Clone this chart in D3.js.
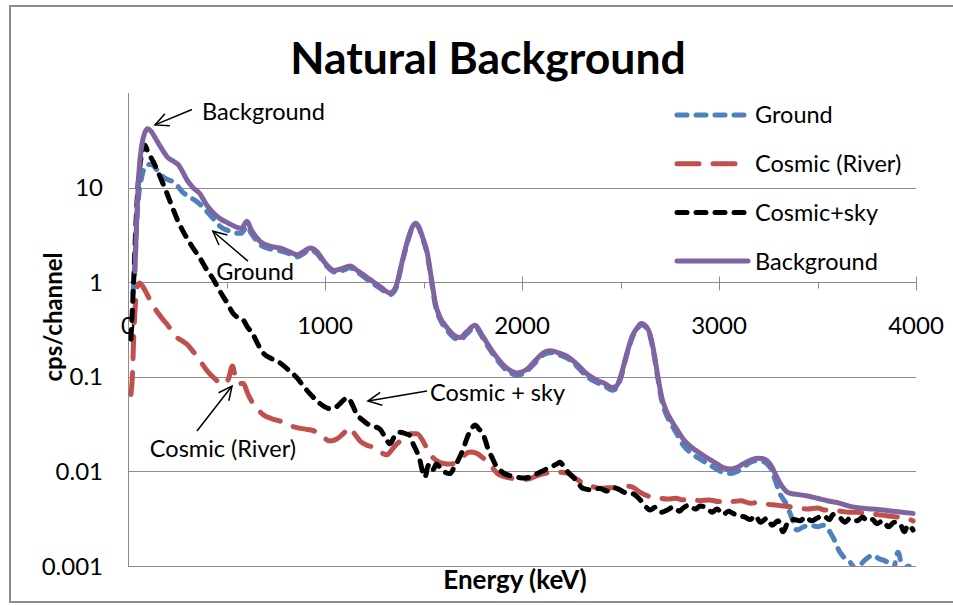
<!DOCTYPE html>
<html>
<head>
<meta charset="utf-8">
<script src="https://cdn.jsdelivr.net/npm/d3@7"></script>
<style>
  body { margin: 0; background: #fff; }
  text { font-family: Lato, "Open Sans", sans-serif; fill: #000; }
</style>
</head>
<body>
<svg id="chart" width="953" height="605"></svg>
<script>
// values: [energy keV, cps/channel]
var ground = [[25,0.75],[35,1.5],[45,4.5],[55,8.5],[70,13],[85,16.5],[100,17.5],[120,17.5],[140,16],[162,14],[190,12.5],[228,11.5],[250,10.5],[274,9.1],[310,8],[350,7.1],[400,5.6],[440,4.5],[467,3.9],[510,3.5],[553,3.3],[575,3.3],[604,3.9],[625,3.3],[670,2.5],[720,2.25],[770,2.15],[820,2.0],[857,1.85],[890,2.0],[924,2.2],[960,2.0],[1000,1.55],[1050,1.28],[1090,1.33],[1127,1.42],[1170,1.25],[1228,1.02],[1280,0.86],[1330,0.74],[1360,0.86],[1390,1.55],[1420,2.7],[1445,3.8],[1460,4.1],[1475,3.8],[1495,2.9],[1518,2.0],[1540,1.05],[1560,0.57],[1585,0.4],[1620,0.31],[1660,0.255],[1685,0.245],[1720,0.285],[1762,0.335],[1800,0.26],[1840,0.19],[1873,0.152],[1920,0.118],[1975,0.104],[2020,0.113],[2070,0.143],[2110,0.172],[2142,0.18],[2190,0.17],[2228,0.158],[2280,0.128],[2330,0.1],[2380,0.087],[2420,0.08],[2457,0.072],[2480,0.076],[2500,0.095],[2530,0.165],[2560,0.26],[2585,0.32],[2605,0.355],[2625,0.34],[2650,0.27],[2670,0.17],[2690,0.095],[2710,0.055],[2730,0.041],[2760,0.031],[2790,0.024],[2818,0.019],[2860,0.0155],[2904,0.0135],[2950,0.0118],[2990,0.0105],[3030,0.0096],[3056,0.0095],[3090,0.0099],[3122,0.011],[3160,0.0125],[3193,0.013],[3220,0.0128],[3244,0.012],[3265,0.0105],[3290,0.0075],[3310,0.0058],[3344,0.0044],[3370,0.0032],[3395,0.0024],[3430,0.0026],[3462,0.0027],[3500,0.0026],[3528,0.0027],[3579,0.002],[3614,0.0014],[3640,0.0012],[3665,0.0011],[3700,0.0009],[3730,0.0011],[3750,0.0012],[3782,0.0013],[3810,0.0012],[3853,0.0011],[3883,0.0009],[3909,0.0014],[3934,0.0009],[3960,0.001],[3985,0.0009]];

var cosmicRiver = [[15,0.065],[22,0.1],[30,0.3],[38,0.6],[48,0.9],[60,0.98],[75,0.9],[96,0.75],[120,0.6],[147,0.49],[175,0.41],[198,0.36],[225,0.3],[249,0.26],[275,0.24],[300,0.22],[335,0.18],[365,0.148],[390,0.125],[416,0.107],[445,0.094],[467,0.085],[490,0.085],[510,0.095],[530,0.13],[545,0.1],[560,0.085],[584,0.085],[610,0.065],[635,0.052],[660,0.045],[685,0.04],[730,0.036],[772,0.034],[815,0.031],[857,0.029],[900,0.028],[940,0.027],[980,0.024],[1025,0.021],[1060,0.022],[1092,0.025],[1127,0.029],[1150,0.025],[1178,0.021],[1210,0.019],[1244,0.018],[1280,0.016],[1315,0.015],[1340,0.017],[1365,0.0196],[1400,0.022],[1431,0.025],[1467,0.025],[1497,0.021],[1520,0.017],[1548,0.014],[1580,0.0125],[1618,0.012],[1645,0.012],[1670,0.013],[1700,0.0145],[1736,0.016],[1771,0.0155],[1800,0.014],[1822,0.013],[1850,0.011],[1873,0.0096],[1910,0.0088],[1954,0.0084],[2000,0.0082],[2041,0.0084],[2075,0.009],[2107,0.0094],[2140,0.0097],[2178,0.0098],[2228,0.0096],[2270,0.0085],[2310,0.0075],[2350,0.007],[2396,0.0066],[2440,0.0067],[2482,0.0068],[2533,0.007],[2563,0.0068],[2600,0.006],[2650,0.0054],[2700,0.0052],[2736,0.0051],[2780,0.0052],[2818,0.005],[2860,0.0051],[2904,0.0049],[2950,0.005],[3000,0.0048],[3040,0.005],[3071,0.0048],[3110,0.0049],[3160,0.0046],[3200,0.0047],[3244,0.0045],[3290,0.0044],[3330,0.0043],[3370,0.0042],[3411,0.0041],[3450,0.004],[3500,0.0041],[3540,0.0039],[3579,0.0039],[3620,0.0038],[3660,0.0037],[3700,0.0037],[3750,0.0036],[3800,0.0035],[3850,0.0034],[3900,0.0033],[3950,0.0032],[3985,0.003]];

var cosmicSky = [[15,0.25],[22,0.5],[30,1.2],[40,4],[50,10],[62,18],[75,25],[86,28],[100,24],[115,21],[127,19],[150,15],[173,11.6],[195,9],[213,7.2],[235,5.5],[254,4.4],[275,3.6],[300,2.9],[330,2.3],[365,1.8],[400,1.35],[430,1.1],[467,0.8],[500,0.62],[533,0.47],[560,0.42],[584,0.4],[605,0.34],[635,0.28],[660,0.22],[685,0.18],[730,0.155],[772,0.14],[815,0.118],[857,0.098],[890,0.08],[924,0.066],[950,0.058],[975,0.052],[1000,0.048],[1025,0.046],[1050,0.047],[1076,0.052],[1100,0.058],[1117,0.06],[1140,0.05],[1162,0.04],[1190,0.035],[1213,0.032],[1245,0.03],[1279,0.028],[1305,0.023],[1330,0.0196],[1355,0.024],[1381,0.026],[1410,0.025],[1431,0.024],[1447,0.0196],[1467,0.016],[1482,0.013],[1495,0.01],[1508,0.0087],[1520,0.011],[1533,0.012],[1550,0.0105],[1565,0.012],[1584,0.011],[1610,0.0098],[1635,0.0095],[1655,0.011],[1675,0.013],[1700,0.017],[1721,0.0225],[1742,0.028],[1762,0.031],[1782,0.028],[1802,0.025],[1825,0.018],[1848,0.014],[1868,0.0115],[1888,0.0103],[1910,0.0095],[1940,0.009],[1975,0.0087],[2010,0.0085],[2041,0.0087],[2065,0.0092],[2091,0.0098],[2120,0.0105],[2150,0.0112],[2178,0.012],[2193,0.0125],[2215,0.011],[2240,0.0095],[2259,0.0087],[2285,0.0075],[2310,0.0066],[2350,0.0064],[2396,0.0066],[2430,0.0062],[2460,0.0067],[2482,0.0066],[2520,0.006],[2563,0.0058],[2600,0.005],[2630,0.0042],[2650,0.0039],[2680,0.0042],[2710,0.0037],[2736,0.0039],[2770,0.0042],[2800,0.0038],[2818,0.0041],[2850,0.0044],[2880,0.004],[2904,0.0043],[2940,0.0041],[2965,0.0037],[2990,0.004],[3020,0.0035],[3050,0.0038],[3071,0.0036],[3100,0.0034],[3130,0.0033],[3157,0.0031],[3185,0.0034],[3210,0.0029],[3244,0.0032],[3270,0.0027],[3300,0.003],[3325,0.0023],[3350,0.0029],[3380,0.0031],[3411,0.003],[3440,0.0033],[3470,0.003],[3497,0.0032],[3530,0.0034],[3560,0.0031],[3579,0.0035],[3610,0.0033],[3640,0.0029],[3665,0.0032],[3700,0.003],[3730,0.0033],[3750,0.003],[3780,0.0031],[3800,0.0028],[3832,0.003],[3860,0.0026],[3890,0.0029],[3919,0.0028],[3940,0.0023],[3960,0.0027],[3985,0.0024]];

var background = [[35,1.3],[45,5],[55,14],[70,28],[85,38],[100,42],[115,40],[140,33],[170,26],[200,21],[230,19],[255,17.5],[275,15],[300,12],[330,10],[365,8.6],[400,6.5],[430,5.5],[467,4.7],[510,4.2],[553,3.8],[575,3.7],[604,4.4],[625,3.6],[670,2.7],[720,2.4],[770,2.3],[820,2.1],[857,1.95],[890,2.1],[924,2.3],[960,2.1],[1000,1.6],[1050,1.33],[1090,1.4],[1127,1.48],[1170,1.3],[1228,1.07],[1280,0.9],[1330,0.77],[1360,0.9],[1390,1.6],[1420,2.8],[1445,3.9],[1460,4.2],[1475,3.9],[1495,3.0],[1518,2.1],[1540,1.1],[1560,0.6],[1585,0.42],[1620,0.33],[1660,0.27],[1685,0.26],[1720,0.3],[1762,0.35],[1800,0.27],[1840,0.2],[1873,0.16],[1920,0.125],[1975,0.11],[2020,0.118],[2070,0.15],[2110,0.18],[2142,0.188],[2190,0.178],[2228,0.165],[2280,0.135],[2330,0.107],[2380,0.092],[2420,0.085],[2457,0.077],[2480,0.08],[2500,0.1],[2530,0.17],[2560,0.27],[2585,0.33],[2605,0.365],[2625,0.35],[2650,0.28],[2670,0.18],[2690,0.1],[2710,0.06],[2730,0.045],[2760,0.034],[2790,0.027],[2818,0.022],[2860,0.018],[2904,0.0155],[2950,0.0135],[2990,0.012],[3030,0.0108],[3056,0.0106],[3090,0.011],[3122,0.012],[3160,0.0132],[3193,0.0138],[3220,0.0137],[3244,0.013],[3270,0.011],[3290,0.009],[3310,0.0075],[3340,0.0062],[3370,0.0058],[3400,0.0057],[3450,0.0055],[3500,0.0052],[3550,0.0049],[3614,0.0046],[3660,0.0043],[3716,0.0041],[3780,0.004],[3832,0.0039],[3880,0.0038],[3930,0.0037],[3985,0.0036]];

var yTicks = [0.001, 0.01, 0.1, 1, 10];
var yTickLabels = ["0.001", "0.01", "0.1", "1", "10"];
var xTicks = [0, 1000, 2000, 3000, 4000];
var xMinorTicks = [500, 1500, 2500, 3500];

var series = [
  {name: "Ground", data: ground, color: "#4f81bd", dash: "10,9"},
  {name: "Cosmic (River)", data: cosmicRiver, color: "#c0504d", dash: "22,14"},
  {name: "Cosmic+sky", data: cosmicSky, color: "#000000", dash: "10,9"},
  {name: "Background", data: background, color: "#8064a2", dash: null}
];

// annotations: label, arrow tail, arrow tip, text anchor point (data units)
var notes = [
  {text: "Background", tail: [325, 67], tip: [137, 46], at: [376, 64], anchor: "start"},
  {text: "Ground", tail: [609, 1.67], tip: [431, 3.46], at: [645, 1.31], anchor: "middle"},
  {text: "Cosmic + sky", tail: [1518, 0.0706], tip: [1218, 0.0554], at: [1533, 0.0675], anchor: "start"},
  {text: "Cosmic (River)", tail: [350, 0.0267], tip: [528, 0.0798], at: [482, 0.01725], anchor: "middle"}
];

var svg = d3.select("#chart");
var plotLeft = 128, plotRight = 916, plotTop = 93, plotBottom = 566;

var x = d3.scaleLinear().domain([0, 4000]).range([plotLeft, plotRight]);
var y = d3.scaleLog().domain([0.001, 100]).range([plotBottom, plotTop]);

// chart border
svg.append("rect")
  .attr("x", 10).attr("y", 6)
  .attr("width", 980).attr("height", 596)
  .attr("fill", "none")
  .attr("stroke", "#8c8c8c")
  .attr("stroke-width", 2);

// title
svg.append("text")
  .attr("x", 488).attr("y", 74)
  .attr("text-anchor", "middle")
  .style("font-size", "44.5px")
  .style("font-weight", "bold")
  .text("Natural Background");

// gridlines
svg.append("g").selectAll("line")
  .data(yTicks)
  .enter().append("line")
  .attr("x1", plotLeft).attr("x2", plotRight)
  .attr("y1", function(d) { return Math.round(y(d)) + 0.5; })
  .attr("y2", function(d) { return Math.round(y(d)) + 0.5; })
  .attr("stroke", "#8c8c8c");

// y axis line
svg.append("line")
  .attr("x1", plotLeft + 0.5).attr("x2", plotLeft + 0.5)
  .attr("y1", plotTop).attr("y2", plotBottom)
  .attr("stroke", "#8c8c8c");

svg.append("g").selectAll("text")
  .data(yTicks)
  .enter().append("text")
  .attr("x", 103)
  .attr("y", function(d) { return y(d); })
  .attr("dy", "0.36em")
  .attr("text-anchor", "end")
  .style("font-size", "24px")
  .text(function(d, i) { return yTickLabels[i]; });

// x axis crosses at 1
var xAxisY = Math.round(y(1)) + 0.5;
svg.append("g").selectAll("line")
  .data(xTicks.slice(1))
  .enter().append("line")
  .attr("x1", function(d) { return Math.round(x(d)) + 0.5; })
  .attr("x2", function(d) { return Math.round(x(d)) + 0.5; })
  .attr("y1", xAxisY - 6).attr("y2", xAxisY + 8)
  .attr("stroke", "#8c8c8c");

svg.append("g").selectAll("line")
  .data(xMinorTicks)
  .enter().append("line")
  .attr("x1", function(d) { return Math.round(x(d)) + 0.5; })
  .attr("x2", function(d) { return Math.round(x(d)) + 0.5; })
  .attr("y1", xAxisY).attr("y2", xAxisY + 6)
  .attr("stroke", "#8c8c8c");

svg.append("g").selectAll("text")
  .data(xTicks)
  .enter().append("text")
  .attr("x", function(d) { return x(d); })
  .attr("y", 325)
  .attr("dy", "0.36em")
  .attr("text-anchor", "middle")
  .style("font-size", "24px")
  .text(function(d) { return d; });

// axis titles
svg.append("text")
  .attr("x", (plotLeft + plotRight) / 2 - 7).attr("y", 580)
  .attr("dy", "0.36em")
  .attr("text-anchor", "middle")
  .style("font-size", "26px")
  .style("font-weight", "bold")
  .text("Energy (keV)");

svg.append("text")
  .attr("transform", "translate(53,317) rotate(-90)")
  .attr("dy", "0.36em")
  .attr("text-anchor", "middle")
  .style("font-size", "24px")
  .style("font-weight", "bold")
  .text("cps/channel");

// series
svg.append("clipPath").attr("id", "plot-clip")
  .append("rect")
  .attr("x", plotLeft).attr("y", plotTop - 10)
  .attr("width", plotRight - plotLeft + 6).attr("height", plotBottom - plotTop + 10);

var line = d3.line()
  .x(function(d) { return x(d[0]); })
  .y(function(d) { return y(d[1]); })
  .curve(d3.curveMonotoneX);

svg.append("g")
  .attr("clip-path", "url(#plot-clip)")
  .selectAll("path")
  .data(series)
  .enter().append("path")
  .attr("d", function(d) { return line(d.data); })
  .attr("fill", "none")
  .attr("stroke", function(d) { return d.color; })
  .attr("stroke-width", 5)
  .attr("stroke-linecap", "round")
  .attr("stroke-linejoin", "round")
  .attr("stroke-dasharray", function(d) { return d.dash; });

// legend
var legend = svg.append("g").selectAll("g")
  .data(series)
  .enter().append("g")
  .attr("transform", function(d, i) { return "translate(677," + (115 + i * 48.7) + ")"; });

legend.append("line")
  .attr("x1", 0).attr("x2", 71)
  .attr("stroke", function(d) { return d.color; })
  .attr("stroke-width", 5)
  .attr("stroke-linecap", "round")
  .attr("stroke-dasharray", function(d) { return d.dash; });

legend.append("text")
  .attr("x", 78)
  .attr("dy", "0.36em")
  .style("font-size", "23.5px")
  .text(function(d) { return d.name; });

// annotations with open arrowheads
var ann = svg.append("g");
notes.forEach(function(n) {
  var x1 = x(n.tail[0]), y1 = y(n.tail[1]);
  var x2 = x(n.tip[0]), y2 = y(n.tip[1]);
  var a = Math.atan2(y1 - y2, x1 - x2);
  var h = 15, w = 0.45;
  ann.append("line")
    .attr("x1", x1).attr("y1", y1).attr("x2", x2).attr("y2", y2)
    .attr("stroke", "#000").attr("stroke-width", 1.5);
  ann.append("path")
    .attr("d", "M" + (x2 + h * Math.cos(a + w)) + "," + (y2 + h * Math.sin(a + w)) +
      "L" + x2 + "," + y2 +
      "L" + (x2 + h * Math.cos(a - w)) + "," + (y2 + h * Math.sin(a - w)))
    .attr("fill", "none").attr("stroke", "#000").attr("stroke-width", 1.5);
  ann.append("text")
    .attr("x", x(n.at[0])).attr("y", y(n.at[1]))
    .attr("dy", "0.36em")
    .attr("text-anchor", n.anchor)
    .style("font-size", "23.5px")
    .text(n.text);
});
</script>
</body>
</html>
